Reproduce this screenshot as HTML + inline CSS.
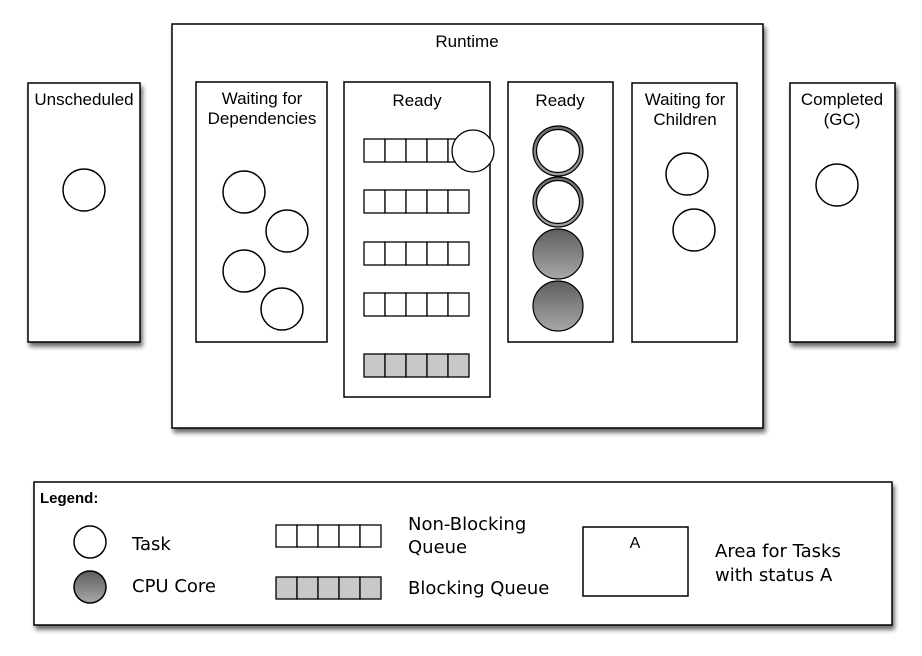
<!DOCTYPE html>
<html><head><meta charset="utf-8"><style>
html,body{margin:0;padding:0;background:#fff;}
svg{display:block;font-family:"Liberation Sans",Arial,sans-serif;}
</style></head><body>
<svg width="922" height="656" viewBox="0 0 922 656" xmlns="http://www.w3.org/2000/svg">
<defs>
<filter id="sh" x="-10%" y="-10%" width="130%" height="130%">
<feGaussianBlur in="SourceAlpha" stdDeviation="2.5"/>
<feOffset dx="2" dy="4" result="b"/>
<feComponentTransfer><feFuncA type="linear" slope="0.6"/></feComponentTransfer>
<feMerge><feMergeNode/><feMergeNode in="SourceGraphic"/></feMerge>
</filter>
<linearGradient id="cpu" x1="0" y1="0" x2="0" y2="1">
<stop offset="0" stop-color="#5e5e5e"/><stop offset="1" stop-color="#a8a8a8"/>
</linearGradient>
<linearGradient id="ring" x1="0" y1="0" x2="0" y2="1">
<stop offset="0" stop-color="#6a6a6a"/><stop offset="1" stop-color="#a0a0a0"/>
</linearGradient>
</defs>
<g stroke="#000" stroke-width="1.5" fill="#fff">
<rect x="28" y="83" width="112" height="259" filter="url(#sh)"/>
<rect x="172" y="24" width="591" height="404" filter="url(#sh)"/>
<rect x="790" y="83" width="105" height="259" filter="url(#sh)"/>
<rect x="34" y="482" width="858" height="143" filter="url(#sh)"/>
<rect x="196" y="82" width="131" height="260"/>
<rect x="344" y="82" width="146" height="315"/>
<rect x="508" y="82" width="105" height="260"/>
<rect x="632" y="83" width="105" height="259"/>
<rect x="583" y="527" width="105" height="69"/>
</g>
<g font-size="17" text-anchor="middle" fill="#000">
<text x="84" y="105">Unscheduled</text>
<text x="467" y="47">Runtime</text>
<text x="262" y="104">Waiting for</text>
<text x="262" y="124">Dependencies</text>
<text x="417" y="106">Ready</text>
<text x="560" y="106">Ready</text>
<text x="685" y="105">Waiting for</text>
<text x="685" y="125">Children</text>
<text x="842" y="105">Completed</text>
<text x="842" y="125">(GC)</text>
<text x="635" y="548" font-size="16">A</text>
</g>
<g stroke="#000" stroke-width="1.5" fill="#fff">
<circle cx="84" cy="190" r="21"/>
<circle cx="244" cy="192" r="21"/>
<circle cx="287" cy="231" r="21"/>
<circle cx="244" cy="271" r="21"/>
<circle cx="282" cy="309" r="21"/>
<circle cx="687" cy="174" r="21"/>
<circle cx="694" cy="230" r="21"/>
<circle cx="837" cy="185" r="21"/>
</g>
<g stroke="#000" stroke-width="1.3">
<g fill="#fff">
<rect x="364" y="139" width="21" height="23"/><rect x="385" y="139" width="21" height="23"/><rect x="406" y="139" width="21" height="23"/><rect x="427" y="139" width="21" height="23"/><rect x="448" y="139" width="21" height="23"/>
<rect x="364" y="190" width="21" height="23"/><rect x="385" y="190" width="21" height="23"/><rect x="406" y="190" width="21" height="23"/><rect x="427" y="190" width="21" height="23"/><rect x="448" y="190" width="21" height="23"/>
<rect x="364" y="242" width="21" height="23"/><rect x="385" y="242" width="21" height="23"/><rect x="406" y="242" width="21" height="23"/><rect x="427" y="242" width="21" height="23"/><rect x="448" y="242" width="21" height="23"/>
<rect x="364" y="293" width="21" height="23"/><rect x="385" y="293" width="21" height="23"/><rect x="406" y="293" width="21" height="23"/><rect x="427" y="293" width="21" height="23"/><rect x="448" y="293" width="21" height="23"/>
<rect x="276" y="525" width="21" height="22"/><rect x="297" y="525" width="21" height="22"/><rect x="318" y="525" width="21" height="22"/><rect x="339" y="525" width="21" height="22"/><rect x="360" y="525" width="21" height="22"/>
</g>
<g fill="#c8c8c8">
<rect x="364" y="354" width="21" height="23"/><rect x="385" y="354" width="21" height="23"/><rect x="406" y="354" width="21" height="23"/><rect x="427" y="354" width="21" height="23"/><rect x="448" y="354" width="21" height="23"/>
<rect x="276" y="577" width="21" height="22"/><rect x="297" y="577" width="21" height="22"/><rect x="318" y="577" width="21" height="22"/><rect x="339" y="577" width="21" height="22"/><rect x="360" y="577" width="21" height="22"/>
</g>
<circle cx="473" cy="151" r="21" fill="#fff"/>
</g>
<g stroke="#000" stroke-width="1.2">
<circle cx="558" cy="151" r="25" fill="url(#ring)"/>
<circle cx="558" cy="151" r="21.5" fill="#fff"/>
<circle cx="558" cy="202" r="25" fill="url(#ring)"/>
<circle cx="558" cy="202" r="21.5" fill="#fff"/>
<circle cx="558" cy="254" r="25" fill="url(#cpu)"/>
<circle cx="558" cy="306" r="25" fill="url(#cpu)"/>
<circle cx="90" cy="542" r="16" fill="#fff" stroke-width="1.5"/>
<circle cx="90" cy="587" r="16" fill="url(#cpu)" stroke-width="1.5"/>
</g>
<g font-size="18" fill="#000" font-family="'DejaVu Sans','Liberation Sans',sans-serif">
<text x="40" y="503" font-size="15" font-weight="bold" font-family="Liberation Sans,sans-serif">Legend:</text>
<text x="132" y="550">Task</text>
<text x="132" y="592">CPU Core</text>
<text x="408" y="530">Non-Blocking</text>
<text x="408" y="553">Queue</text>
<text x="408" y="594">Blocking Queue</text>
<text x="715" y="557">Area for Tasks</text>
<text x="715" y="581">with status A</text>
</g>
</svg>
</body></html>
